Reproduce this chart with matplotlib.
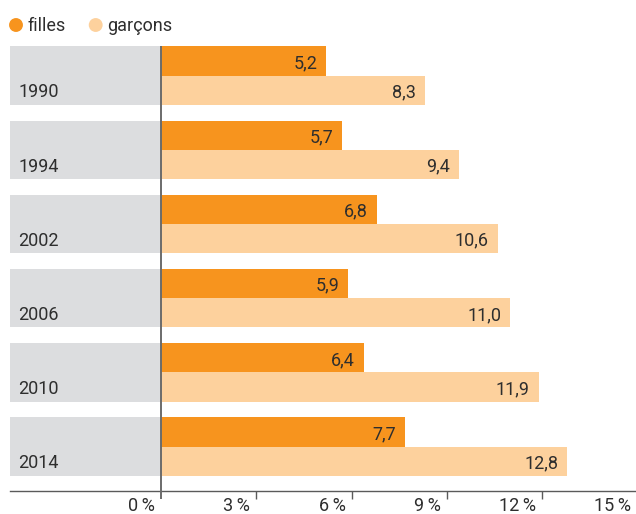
import matplotlib
matplotlib.use("Agg")
import matplotlib.pyplot as plt
from matplotlib.transforms import blended_transform_factory

plt.rcParams['font.family'] = ['Roboto', 'DejaVu Sans']

years = ['1990', '1994', '2002', '2006', '2010', '2014']
filles = [5.2, 5.7, 6.8, 5.9, 6.4, 7.7]
garcons = [8.3, 9.4, 10.6, 11.0, 11.9, 12.8]
xticks = [0, 3, 6, 9, 12, 15]
series_names = ['filles', 'garçons']

C_F = '#F7941E'
C_G = '#FDD19D'
C_BAND = '#DCDDDF'
C_TXT = '#2E2E2E'
C_AX = '#5A5A5A'
FS = 13

W, H = 636, 514
fig = plt.figure(figsize=(W / 100, H / 100), dpi=100)

# pixel geometry
px0 = 161.0       # pixel of 0 %
ppu = 31.75       # pixels per percent
left_px, right_px = 10.0, 636.0
top_px, bot_px = 40.0, 490.7
yc0, ystep = 75.5, 74.2
half = 29.2 / ystep

xlim = ((left_px - px0) / ppu, (right_px - px0) / ppu)
ylim = ((bot_px - yc0) / ystep, (top_px - yc0) / ystep)

ax = fig.add_axes([left_px / W, (H - bot_px) / H,
                   (right_px - left_px) / W, (bot_px - top_px) / H])
ax.set_xlim(*xlim)
ax.set_ylim(*ylim)

for s in ['top', 'right', 'left']:
    ax.spines[s].set_visible(False)
ax.spines['bottom'].set_color(C_AX)
ax.spines['bottom'].set_linewidth(1.0)
ax.set_xticks([])
ax.set_yticks([])

pos = list(range(len(years)))
bh = half
# grey bands on the left
ax.barh(pos, [0 - xlim[0]] * len(pos), left=xlim[0], height=2 * half,
        color=C_BAND, linewidth=0)
ax.barh([p - bh / 2 for p in pos], filles, height=bh, color=C_F, linewidth=0)
ax.barh([p + bh / 2 for p in pos], garcons, height=bh, color=C_G, linewidth=0)

def fmt(v):
    return f"{v:.1f}".replace('.', ',')

for p, y, f, g in zip(pos, years, filles, garcons):
    ax.annotate(fmt(f), xy=(f, p - bh / 2), xytext=(-6.5, -5.2),
                textcoords='offset points', ha='right', va='baseline',
                fontsize=FS, color=C_TXT)
    ax.annotate(fmt(g), xy=(g, p + bh / 2), xytext=(-6.5, -5.2),
                textcoords='offset points', ha='right', va='baseline',
                fontsize=FS, color=C_TXT)
    ax.annotate(y, xy=((18 - px0) / ppu, p + bh / 2), xytext=(0, -5.3),
                textcoords='offset points', ha='left', va='baseline',
                fontsize=FS, color=C_TXT)

# vertical zero line
y_low = (499 - yc0) / ystep
ax.plot([0, 0], [-half, y_low], color='#6B6B6B', lw=1.4, clip_on=False,
        solid_capstyle='butt', zorder=5)

# ticks and tick labels
tr = blended_transform_factory(ax.transData, ax.transAxes)
tick_len = (499 - bot_px) / (bot_px - top_px)
for t in xticks:
    if t != 0:
        ax.plot([t, t], [0, -tick_len], transform=tr, color=C_AX, lw=1.0,
                clip_on=False, solid_capstyle='butt')
    ax.annotate(f"{t}\u2009%", xy=(t, 0), xycoords=tr, xytext=(-4.3, -14.4),
                textcoords='offset points', ha='right', va='baseline',
                fontsize=FS, color=C_TXT)

# legend
ax_leg = fig.add_axes([0, 0, 1, 1], zorder=-1)
ax_leg.set_xlim(0, W)
ax_leg.set_ylim(H, 0)
ax_leg.axis('off')
ax_leg.scatter([16, 95.7], [25, 25], s=100, c=[C_F, C_G], linewidths=0)
ax_leg.text(27.7, 31, series_names[0], fontsize=FS, color=C_TXT,
            ha='left', va='baseline')
ax_leg.text(107, 31, series_names[1], fontsize=FS, color=C_TXT,
            ha='left', va='baseline')

fig.savefig('out.png', dpi=100)
